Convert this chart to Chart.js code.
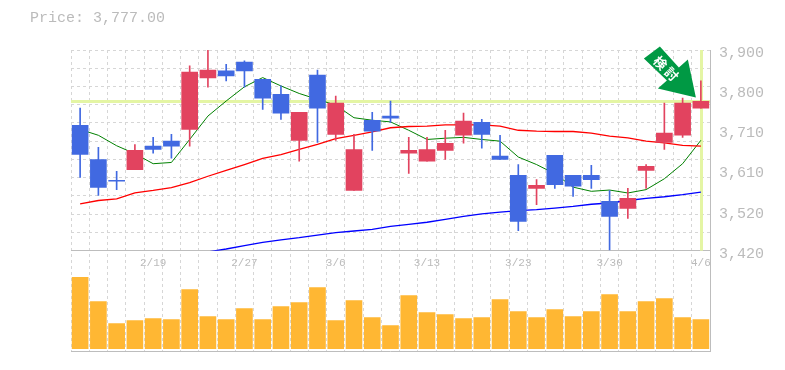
<!DOCTYPE html>
<html>
<head>
<meta charset="utf-8">
<script src="https://cdn.jsdelivr.net/npm/chart.js@4"></script>
<style>
  html, body { margin: 0; padding: 0; background: #fff; }
  #wrap { position: relative; width: 785px; height: 370px; overflow: hidden; }
  #price { position: absolute; left: 30px; top: 10px; font: 15px "Liberation Mono", monospace; color: #bbb; }
</style>
</head>
<body>
<div id="wrap">
  <div id="price">Price: 3,777.00</div>
  <canvas id="chart" width="785" height="370"></canvas>
</div>
<script>
// candles, oldest first
const categories = ["","","","","2/19","","","","","2/27","","","","","3/6","","","","","3/13","","","","","3/23","","","","","3/30","","","","","4/6"];
const opens  = [3720,3638,3588,3614,3670,3682,3710,3833,3850,3871,3830,3794,3684,3840,3698,3564,3732,3742,3653,3634,3660,3696,3727,3646,3600,3569,3648,3600,3600,3538,3521,3612,3679,3696,3761];
const closes = [3650,3571,3586,3660,3662,3670,3847,3852,3838,3850,3785,3749,3751,3761,3773,3662,3706,3737,3660,3662,3677,3730,3698,3638,3490,3576,3578,3574,3590,3502,3545,3622,3701,3773,3777];
const highs  = [3761,3667,3610,3674,3691,3698,3862,3900,3866,3874,3830,3814,3751,3852,3790,3698,3751,3778,3691,3691,3708,3749,3734,3696,3626,3590,3648,3600,3624,3564,3569,3626,3773,3785,3826];
const lows   = [3595,3552,3566,3614,3653,3641,3670,3811,3826,3811,3758,3734,3634,3679,3684,3564,3660,3727,3605,3634,3638,3677,3665,3638,3468,3530,3569,3550,3569,3422,3497,3569,3662,3691,3761];

// moving averages
const maShort = [3710,3696,3671,3652,3628,3631,3686,3742,3778,3812,3834,3814,3796,3782,3768,3738,3732,3728,3708,3686,3689,3691,3686,3682,3644,3626,3604,3572,3562,3565,3558,3566,3592,3628,3684];
const maMid   = [3532,3540,3544,3558,3564,3571,3583,3598,3612,3626,3641,3650,3662,3674,3688,3696,3704,3714,3717,3718,3721,3721,3721,3718,3708,3706,3705,3705,3701,3694,3690,3682,3678,3672,3670];
const maLong  = [null,null,null,null,null,null,null,3417,3424,3432,3440,3446,3451,3457,3463,3467,3471,3478,3483,3488,3495,3502,3508,3512,3516,3518,3522,3526,3531,3534,3540,3545,3549,3554,3560];

const volumes = [213,141,75,84,90,87,177,96,87,120,87,126,138,183,84,144,93,69,159,108,102,90,93,147,111,93,117,96,111,162,111,141,150,93,87];

const priceTicks = [3900,3804,3708,3612,3516,3420];
const currentPrice = 3777;
const arrowText = ["検", "討"];

const PRICE_MIN = 3420, PRICE_MAX = 3900;
const GRID_ROWS = 11;
const RED = "#e2435f", BLUE = "#4169e1", LINE_GRAY = "#bdbdbd", GRID_GRAY = "#d6d6d6", HILITE = "#e4f5a4";

const isUp = i => closes[i] >= opens[i];
const gridTicks = Array.from({ length: GRID_ROWS + 1 }, (_, i) => PRICE_MIN + (PRICE_MAX - PRICE_MIN) * i / GRID_ROWS);
const labelOnly = priceTicks.slice(1, 5);

function bodies(up) {
  return opens.map((o, i) => (isUp(i) === up ? [Math.min(o, closes[i]), Math.max(o, closes[i])] : null));
}

// highlight lines for the current price and the latest day, under the candles
const hilitePlugin = {
  id: "hilite",
  beforeDatasetsDraw(chart) {
    const { ctx, chartArea, scales } = chart;
    const py = scales.y.getPixelForValue(currentPrice);
    const px = scales.x.getPixelForValue(categories.length - 1);
    ctx.save();
    ctx.fillStyle = HILITE;
    ctx.fillRect(chartArea.left, Math.round(py) - 1, chartArea.width, 3);
    ctx.fillRect(Math.round(px) - 1, scales.y.top, 3, scales.y.height);
    ctx.restore();
  },
};

// green arrow callout pointing at the last candle
const arrowPlugin = {
  id: "arrow",
  afterDatasetsDraw(chart) {
    const { ctx, scales } = chart;
    const tipX = scales.x.getPixelForValue(categories.length - 1) - 5;
    const tipY = scales.y.getPixelForValue(currentPrice) - 4;
    ctx.save();
    ctx.translate(tipX, tipY);
    ctx.fillStyle = "#009944";
    ctx.beginPath();
    ctx.moveTo(0, 0);
    ctx.lineTo(-38, -9);
    ctx.lineTo(-29, -17);
    ctx.lineTo(-52, -39);
    ctx.lineTo(-36, -51);
    ctx.lineTo(-17, -30);
    ctx.lineTo(-8, -38);
    ctx.closePath();
    ctx.fill();
    ctx.translate(-30, -29);
    ctx.rotate(Math.PI / 4);
    ctx.fillStyle = "#fff";
    ctx.font = 'bold 13px "Noto Sans CJK JP"';
    ctx.textAlign = "center";
    ctx.textBaseline = "middle";
    ctx.fillText(arrowText[0], -8, 0);
    ctx.fillText(arrowText[1], 8, 0);
    ctx.restore();
  },
};

const barOpts = { grouped: false, barThickness: 16, borderWidth: 0 };
const lineOpts = { type: "line", yAxisID: "y", order: 2, pointRadius: 0, tension: 0, fill: false };

new Chart(document.getElementById("chart"), {
  type: "bar",
  data: {
    labels: categories,
    datasets: [
      { ...barOpts, data: volumes, yAxisID: "yVol", backgroundColor: "#ffb733", order: 3 },
      { ...lineOpts, data: maLong, borderColor: "#0000ff", borderWidth: 1.3 },
      { ...lineOpts, data: maMid, borderColor: "#ff0000", borderWidth: 1.3 },
      { ...lineOpts, data: maShort, borderColor: "#008000", borderWidth: 1 },
      { grouped: false, barThickness: 1, borderWidth: 0, yAxisID: "y", order: 1,
        data: highs.map((h, i) => [lows[i], h]),
        backgroundColor: ctx => (isUp(ctx.dataIndex) ? RED : BLUE) },
      { ...barOpts, yAxisID: "y", order: 0, data: bodies(true), backgroundColor: RED },
      { ...barOpts, yAxisID: "y", order: 0, data: bodies(false), backgroundColor: BLUE },
    ],
  },
  options: {
    responsive: false,
    animation: false,
    layout: { padding: { left: 71, top: 50, bottom: 19, right: 0 } },
    plugins: { legend: { display: false }, tooltip: { enabled: false } },
    scales: {
      x: {
        position: { yVol: 293 },
        offset: true,
        grid: { offset: true, color: GRID_GRAY, drawTicks: false },
        border: { display: false, dash: [3, 3] },
        ticks: { autoSkip: false, maxRotation: 0, minRotation: 0, padding: 6, color: "#bbb",
                  font: { family: "Liberation Mono", size: 11 } },
      },
      y: {
        position: "right",
        stack: "main",
        stackWeight: 2,
        min: PRICE_MIN,
        max: PRICE_MAX,
        afterFit(s) { s.width = 75; },
        afterBuildTicks(s) {
          s.ticks = gridTicks.concat(labelOnly).sort((a, b) => a - b).map(value => ({ value }));
        },
        grid: {
          drawTicks: false,
          color: c => (c.tick.value === PRICE_MIN ? LINE_GRAY : labelOnly.includes(c.tick.value) ? "transparent" : GRID_GRAY),
        },
        border: { display: true, color: LINE_GRAY, dash: c => (c.tick && c.tick.value === PRICE_MIN ? [] : [3, 3]) },
        ticks: {
          autoSkip: false,
          padding: 9,
          labelOffset: 3,
          color: "#bbb",
          font: { family: "Liberation Mono", size: 15 },
          callback: v => (priceTicks.includes(v) ? (Math.round(v / 10) * 10).toLocaleString("en-US") : ""),
        },
      },
      yVol: {
        position: "right",
        stack: "main",
        stackWeight: 1,
        min: -7,
        max: 293,
        afterFit(s) { s.width = 75; },
        afterBuildTicks(s) { s.ticks = [{ value: -7 }]; },
        grid: { drawTicks: false, color: LINE_GRAY },
        border: { display: true, color: LINE_GRAY },
        ticks: { display: false },
      },
    },
  },
  plugins: [hilitePlugin, arrowPlugin],
});
</script>
</body>
</html>
